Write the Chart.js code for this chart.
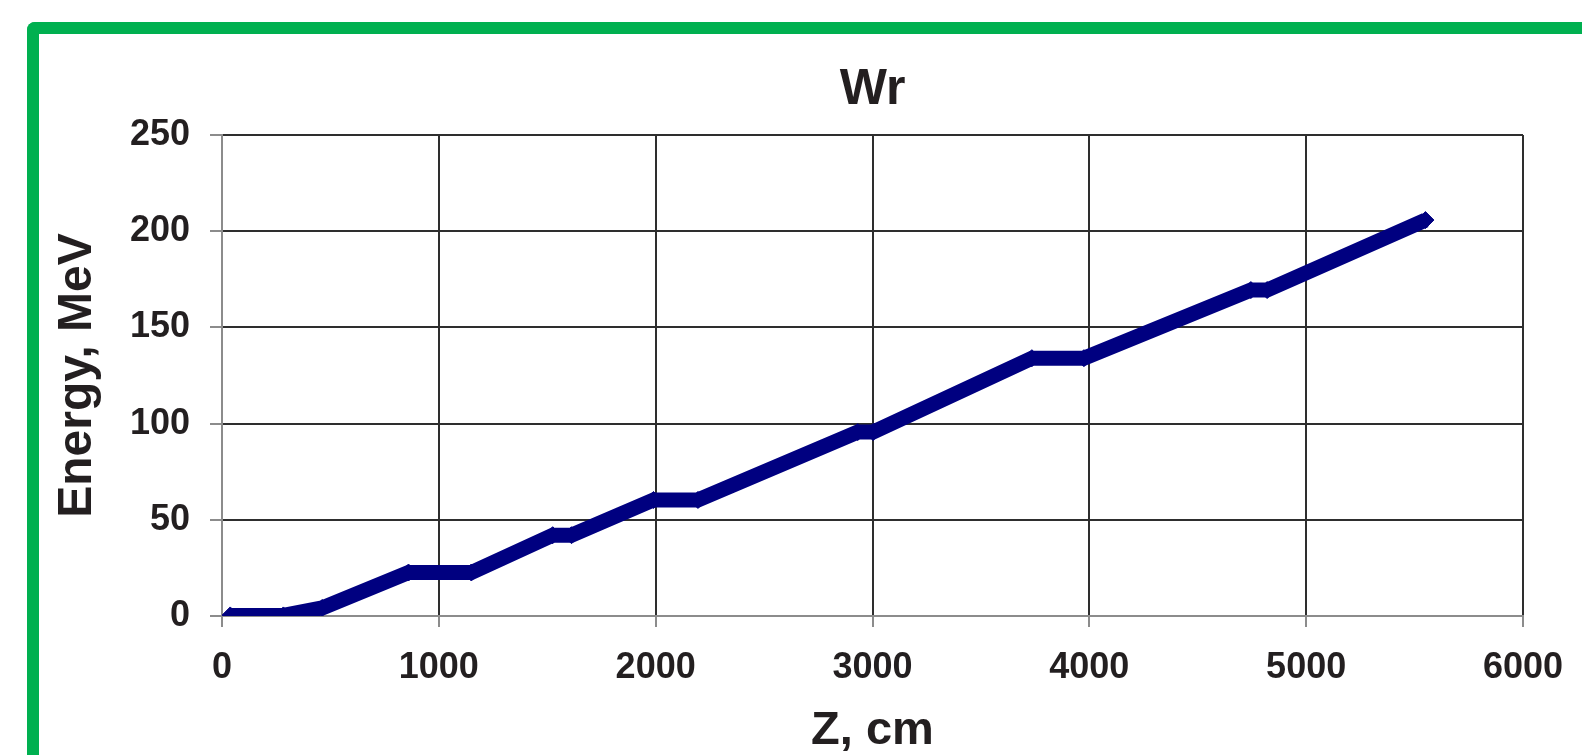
<!DOCTYPE html>
<html><head><meta charset="utf-8">
<script src="https://cdn.jsdelivr.net/npm/chart.js@4.4.1/dist/chart.umd.min.js"></script>
<style>
html,body{margin:0;padding:0;background:#fff;overflow:hidden;}
#wrap{position:relative;width:1582px;height:755px;overflow:hidden;}
#frame{position:absolute;left:27px;top:22px;width:1700px;height:900px;border-top:12px solid #00b050;border-left:12px solid #00b050;border-top-left-radius:8px;box-sizing:border-box;}
canvas{position:absolute;left:0;top:0;}
</style></head><body>
<div id="wrap"><div id="frame"></div><canvas id="c" width="1582" height="755"></canvas></div>
<script>
// Data
const zValues      = [38, 283, 462, 860, 1150, 1525, 1612, 1990, 2195, 2932, 3003, 3735, 3975, 4745, 4820, 5550];
const energyValues = [0.3, 0.3, 4.2, 22.6, 22.6, 42, 42, 60.3, 60.3, 95.6, 95.6, 134, 134, 169.4, 169.4, 205.8];
const xTickValues  = [0, 1000, 2000, 3000, 4000, 5000, 6000];
const yTickValues  = [0, 50, 100, 150, 200, 250];
const chartTitle   = 'Wr';
const xTitle       = 'Z, cm';
const yTitle       = 'Energy, MeV';

const FONT = '"Liberation Sans", Arial, Helvetica, sans-serif';
const TEXT = '#231f20';
const GRID = '#2e2e2e';
const AXIS = '#8c8c8c';

const points = zValues.map((z, i) => ({x: z, y: energyValues[i]}));
const gridColor = ctx => (ctx.tick && ctx.tick.value === 0) ? AXIS : GRID;
const plainLabel = v => String(v);

new Chart(document.getElementById('c'), {
  type: 'line',
  data: {
    datasets: [{
      data: points,
      borderColor: '#000080',
      backgroundColor: '#000080',
      borderWidth: 15,
      pointStyle: 'rectRot',
      pointRadius: 8.5,
      pointBorderWidth: 1,
      pointBackgroundColor: '#000080',
      pointBorderColor: '#000080',
      tension: 0,
      fill: false
    }]
  },
  options: {
    responsive: false,
    animation: false,
    events: [],
    layout: {padding: {left: 40, right: 59, top: 0, bottom: 0}},
    plugins: {
      legend: {display: false},
      tooltip: {enabled: false},
      title: {
        display: true,
        text: chartTitle,
        fullSize: false,
        color: TEXT,
        font: {family: FONT, size: 50, weight: 'bold', lineHeight: 1.2},
        padding: {top: 60, bottom: 15}
      }
    },
    scales: {
      x: {
        type: 'linear',
        min: 0, max: 6000,
        afterBuildTicks: s => { s.ticks = xTickValues.map(v => ({value: v})); },
        afterFit: s => { s.height = 139; s.paddingLeft = 0; s.paddingRight = 0; },
        grid: {color: gridColor, lineWidth: 2, tickColor: AXIS, tickLength: 11, tickWidth: 2},
        border: {color: AXIS, width: 2},
        ticks: {color: TEXT, padding: 19, maxRotation: 0, callback: plainLabel, font: {family: FONT, size: 36, weight: 'bold'}},
        title: {display: true, text: xTitle, color: TEXT, font: {family: FONT, size: 47, weight: 'bold', lineHeight: 1.0}, padding: {top: 0, bottom: 0}}
      },
      y: {
        type: 'linear',
        min: 0, max: 250,
        afterBuildTicks: s => { s.ticks = yTickValues.map(v => ({value: v})); },
        afterFit: s => { s.width = 182; s.paddingTop = 0; s.paddingBottom = 0; },
        grid: {color: gridColor, lineWidth: 2, tickColor: AXIS, tickLength: 12, tickWidth: 2},
        border: {color: AXIS, width: 2},
        ticks: {color: TEXT, padding: 20, callback: plainLabel, font: {family: FONT, size: 36, weight: 'bold'}},
        title: {display: true, text: yTitle, color: TEXT, font: {family: FONT, size: 48, weight: 'bold'}, padding: {top: 9, bottom: 0}}
      }
    }
  }
});
</script>
</body></html>
